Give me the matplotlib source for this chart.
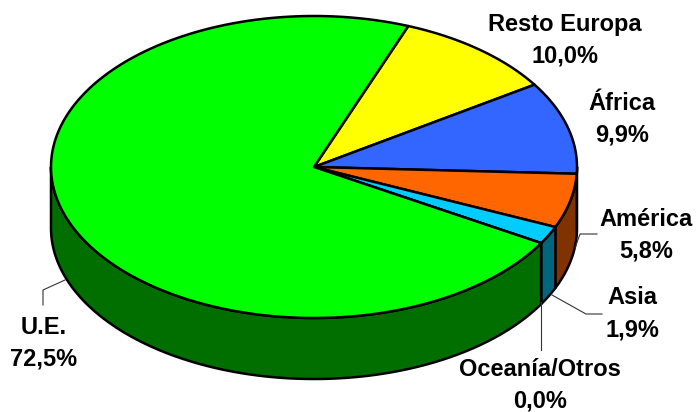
import numpy as np
import matplotlib
matplotlib.use("Agg")
import matplotlib.pyplot as plt
from matplotlib.patches import Polygon

labels = ["U.E.", "Resto Europa", "África", "América", "Asia", "Oceanía/Otros"]
valores = [72.5, 10.0, 9.9, 5.8, 1.9, 0.0]
textos = ["72,5%", "10,0%", "9,9%", "5,8%", "1,9%", "0,0%"]
colores = ["#00ff00", "#ffff00", "#3366ff", "#ff6600", "#00ccff", "#993300"]
laterales = ["#006f00", "#808000", "#1a3380", "#803300", "#006680", "#4d1a00"]

# centro y radios de la elipse, en pixeles
cx, cy, rx, ry = 314, 167, 263, 151
prof = 61
inicio = 69.0

fig = plt.figure(figsize=(6.96, 4.12), dpi=100)
ax = fig.add_axes([0, 0, 1, 1])
ax.set_xlim(0, 696)
ax.set_ylim(412, 0)
ax.axis("off")


def arco(a1, a2):
    t = np.radians(np.linspace(a1, a2, 200))
    return cx + rx * np.cos(t), cy - ry * np.sin(t)


# angulos de cada porcion, en sentido horario desde el borde U.E./Resto Europa
ang = inicio
tramos = []
for i in [1, 2, 3, 4, 5, 0]:
    a2 = ang - valores[i] * 360 / sum(valores)
    tramos.append((i, ang, a2))
    ang = a2

# pared lateral: solo la mitad visible de cada porcion (angulos entre 0 y -180)
for i, a1, a2 in tramos:
    vis1, vis2 = min(a1, 0), max(a2, -180)
    if vis1 > vis2:
        x, y = arco(vis1, vis2)
        pts = np.r_[np.c_[x, y], np.c_[x[::-1], y[::-1] + prof]]
        ax.add_patch(Polygon(pts, closed=True, fc=laterales[i], ec="black", lw=1.8, joinstyle="round"))

# tapa
for i, a1, a2 in tramos:
    x, y = arco(a1, a2)
    pts = np.r_[[[cx, cy]], np.c_[x, y]]
    ax.add_patch(Polygon(pts, closed=True, fc=colores[i], ec="black", lw=1.8, joinstyle="round"))

# lineas guia
guias = [([43, 43, 65], [305, 290, 280]),
         ([597, 580, 575], [234, 234, 248]),
         ([602, 586, 552], [314, 314, 295]),
         ([541, 541], [302, 350])]
for gx, gy in guias:
    ax.plot(gx, gy, color="#333333", lw=0.8)

# etiquetas
pos = [(44, 343), (565, 40), (622, 119), (646, 235), (632, 314), (540, 385)]
for i, (tx, ty) in enumerate(pos):
    ax.text(tx, ty, labels[i] + "\n" + textos[i], ha="center", va="center",
            family="Liberation Sans", weight="bold", fontsize=17, linespacing=1.5, color="black")

fig.savefig("out.png", dpi=100)
